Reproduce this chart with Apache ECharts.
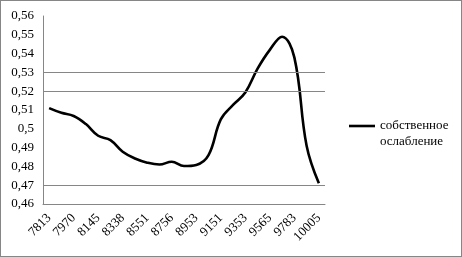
<!DOCTYPE html>
<html><head><meta charset="utf-8">
<script src="https://cdn.jsdelivr.net/npm/echarts@6/dist/echarts.min.js"></script>
<style>
html,body{margin:0;padding:0;background:#fff;}
#c{width:460px;height:255px;border:1px solid #868686;}
</style></head>
<body><div id="c"></div>
<script>
const categories = ['7813','7891','7970','8057','8145','8241','8338','8444','8551','8653','8756','8854','8953','9052','9151','9252','9353','9459','9565','9674','9783','9894','10005'];
const values = [0.511,0.5085,0.5068,0.5025,0.4963,0.494,0.4878,0.4842,0.482,0.481,0.4825,0.4802,0.4808,0.486,0.505,0.5127,0.5193,0.532,0.542,0.549,0.538,0.491,0.471];
const seriesName = 'собственное ослабление';
const gridValues = [0.47, 0.52, 0.53];
const yMin = 0.46, yMax = 0.56, yStep = 0.01;

const font = 'Liberation Serif';
const chart = echarts.init(document.getElementById('c'));
chart.setOption({
  animation: false,
  textStyle: {fontFamily: font},
  grid: {left: 42, right: 136, top: 15, bottom: 52},
  legend: {
    left: 348, top: 101, padding: 0,
    itemWidth: 26, itemHeight: 14, itemGap: 0,
    icon: 'path://M0,0 H10 V1 H0 Z',
    data: [seriesName],
    formatter: n => '\n' + n.replace(' ', '\n'),
    textStyle: {fontFamily: font, fontSize: 13, color: '#000', lineHeight: 16}
  },
  xAxis: {
    type: 'category', data: categories, boundaryGap: true,
    axisLine: {lineStyle: {color: '#868686'}},
    axisTick: {show: false},
    axisLabel: {interval: 1, rotate: 45, margin: 12, fontFamily: font, fontSize: 13, color: '#000'}
  },
  yAxis: {
    type: 'value', min: yMin, max: yMax, interval: yStep,
    axisLine: {show: true, lineStyle: {color: '#868686'}},
    axisTick: {show: false},
    splitLine: {show: false},
    axisLabel: {margin: 9, fontFamily: font, fontSize: 13, color: '#000',
      formatter: v => String(parseFloat(v.toFixed(2))).replace('.', ',')}
  },
  series: [{
    name: seriesName, type: 'line', data: values, smooth: 0.4,
    symbol: 'none',
    lineStyle: {color: '#000', width: 2.6},
    itemStyle: {color: '#000'},
    markLine: {
      silent: true, symbol: 'none', label: {show: false},
      lineStyle: {color: '#868686', width: 1, type: 'solid'},
      data: gridValues.map(v => ({yAxis: v}))
    },
    z: 3
  }]
});
</script></body></html>
